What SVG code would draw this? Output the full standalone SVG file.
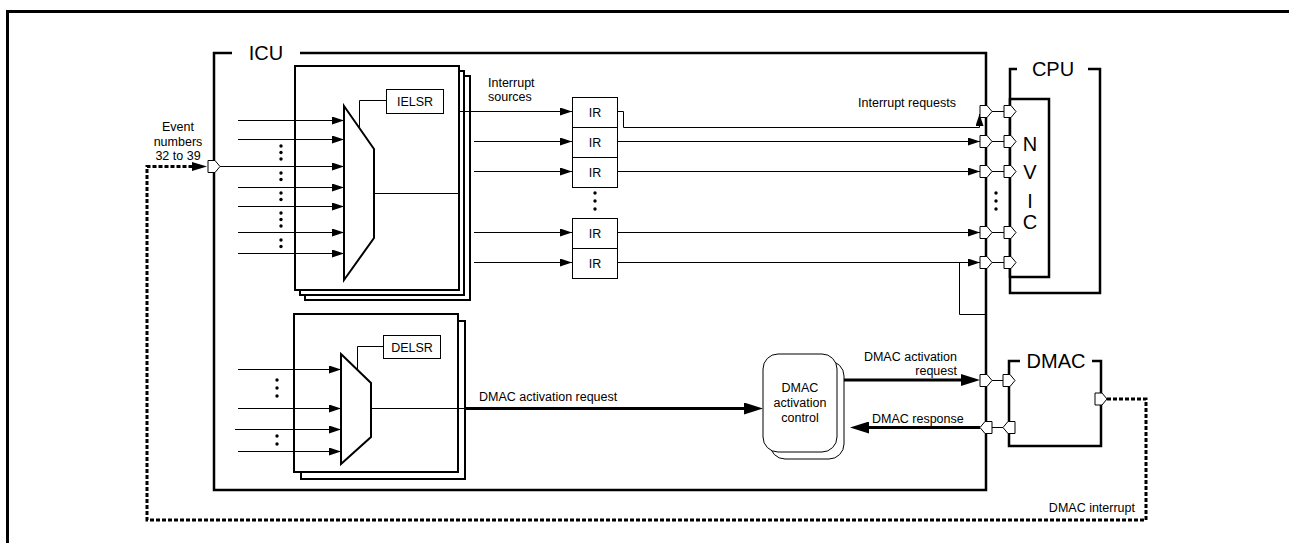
<svg xmlns="http://www.w3.org/2000/svg" xmlns:xlink="http://www.w3.org/1999/xlink" width="1289" height="543" viewBox="0 0 1289 543">
<style>
text{font-family:"Liberation Sans",Arial,sans-serif;fill:#000}
.s{font-size:12.5px}
.b{font-size:20px}
.m{text-anchor:middle}
.e{text-anchor:end}
.fr{fill:none;stroke:#000;stroke-width:2.5}
.bx{fill:#fff;stroke:#000;stroke-width:2}
.th{fill:#fff;stroke:#000;stroke-width:1}
.ln{fill:none;stroke:#000;stroke-width:1}
.tk{fill:none;stroke:#000;stroke-width:3}
.da{fill:none;stroke:#000;stroke-width:3;stroke-dasharray:4 2}
.dot{fill:#000}
</style>
<defs>
<marker id="a" markerUnits="userSpaceOnUse" markerWidth="13" markerHeight="9" refX="12" refY="4" orient="auto"><path d="M0,0 L12,4 L0,8 Z" fill="#000"/></marker>
<marker id="A" markerUnits="userSpaceOnUse" markerWidth="20" markerHeight="12" refX="0" refY="6" orient="auto"><path d="M0,0 L19,6 L0,12 Z" fill="#000"/></marker>
<marker id="E" markerUnits="userSpaceOnUse" markerWidth="16" markerHeight="10" refX="0" refY="4.5" orient="auto"><path d="M0,0 L15,4.5 L0,9 Z" fill="#000"/></marker>
<path id="pr" d="M-6,-6 H1 L6,0 L1,6 H-6 Z" fill="#fff" stroke="#000" stroke-width="1"/>
<path id="pl" d="M6,-6 H-1 L-6,0 L-1,6 H6 Z" fill="#fff" stroke="#000" stroke-width="1"/>
</defs>
<rect width="1289" height="543" fill="#fff"/>

<g id="outer-frame">
<path d="M7.5,543 V11.5 H1289" fill="none" stroke="#000" stroke-width="3"/>
</g>

<g id="icu">
<path class="fr" d="M232,53 H214 V490 H986 V53 H300"/>
<text class="b m" x="266" y="59.5">ICU</text>
</g>

<g id="ielsr-selector">
<rect class="bx" x="305" y="76" width="165" height="224"/>
<rect class="bx" x="300" y="71" width="164" height="224"/>
<rect class="bx" x="295" y="66" width="164" height="224"/>
<polygon points="344,106 374,149 374,238 344,280" fill="#fff" stroke="#000" stroke-width="2"/>
<rect class="th" x="386.5" y="89.5" width="57" height="24"/>
<text class="s m" x="415" y="106">IELSR</text>
</g>

<g id="delsr-selector">
<rect class="bx" x="301" y="321" width="164" height="158"/>
<rect class="bx" x="294" y="314" width="164" height="158"/>
<polygon points="341,354 371,383 371,437 341,464" fill="#fff" stroke="#000" stroke-width="2"/>
<rect class="th" x="383.5" y="335.5" width="57" height="23"/>
<text class="s m" x="412" y="352">DELSR</text>
</g>

<g id="ir-registers">
<rect class="th" x="572.5" y="97.5" width="45" height="30"/>
<rect class="th" x="572.5" y="127.5" width="45" height="30"/>
<rect class="th" x="572.5" y="157.5" width="45" height="30"/>
<rect class="th" x="572.5" y="218.5" width="45" height="30"/>
<rect class="th" x="572.5" y="248.5" width="45" height="30"/>
<text class="s m" x="595" y="117">IR</text>
<text class="s m" x="595" y="147">IR</text>
<text class="s m" x="595" y="177">IR</text>
<text class="s m" x="595" y="238">IR</text>
<text class="s m" x="595" y="268">IR</text>
<circle class="dot" cx="595" cy="193" r="1.7"/>
<circle class="dot" cx="595" cy="201" r="1.7"/>
<circle class="dot" cx="595" cy="209" r="1.7"/>
</g>

<g id="cpu">
<path class="fr" d="M1017,69 H1010 V293 H1100 V69 H1088"/>
<text class="b m" x="1053" y="75.5">CPU</text>
</g>

<g id="nvic">
<rect x="1010" y="99" width="39" height="178" fill="#fff" stroke="#000" stroke-width="2.5"/>
<text class="b m" x="1030" y="151">N</text>
<text class="b m" x="1030" y="179">V</text>
<text class="b m" x="1030" y="208">I</text>
<text class="b m" x="1030" y="229">C</text>
</g>

<g id="dmac">
<path class="fr" d="M1020,361 H1009 V446 H1101 V361 H1092"/>
<text class="b m" x="1056" y="367.5">DMAC</text>
</g>

<g id="dmac-activation-control">
<rect x="770" y="361" width="74" height="98" rx="15" fill="#fff" stroke="#000" stroke-width="1"/>
<rect x="763" y="354" width="74" height="98" rx="15" fill="#fff" stroke="#000" stroke-width="1"/>
<text class="s m" x="800" y="392">DMAC</text>
<text class="s m" x="800" y="407">activation</text>
<text class="s m" x="800" y="422">control</text>
</g>

<g id="connectors">
<path class="ln" d="M238,120.5 H344" marker-end="url(#a)"/>
<path class="ln" d="M238,139.5 H344" marker-end="url(#a)"/>
<path class="ln" d="M220,166.5 H344" marker-end="url(#a)"/>
<path class="ln" d="M238,187.5 H344" marker-end="url(#a)"/>
<path class="ln" d="M238,206.5 H344" marker-end="url(#a)"/>
<path class="ln" d="M238,232.5 H344" marker-end="url(#a)"/>
<path class="ln" d="M238,253.5 H344" marker-end="url(#a)"/>
<g class="dot">
<circle cx="281" cy="146" r="1.7"/><circle cx="281" cy="152.5" r="1.7"/><circle cx="281" cy="159" r="1.7"/>
<circle cx="281" cy="173" r="1.7"/><circle cx="281" cy="179.5" r="1.7"/>
<circle cx="281" cy="193" r="1.7"/><circle cx="281" cy="199.5" r="1.7"/>
<circle cx="281" cy="213" r="1.7"/><circle cx="281" cy="219.5" r="1.7"/><circle cx="281" cy="226" r="1.7"/>
<circle cx="281" cy="240" r="1.7"/><circle cx="281" cy="246.5" r="1.7"/>
</g>
<path class="ln" d="M359.5,127 V100.5 H386.5"/>
<path class="ln" d="M374,193.5 H459"/>
<path class="ln" d="M459,111.5 H572" marker-end="url(#a)"/>
<path class="ln" d="M474,141.5 H572" marker-end="url(#a)"/>
<path class="ln" d="M474,171.5 H572" marker-end="url(#a)"/>
<path class="ln" d="M474,232.5 H572" marker-end="url(#a)"/>
<path class="ln" d="M474,262.5 H572" marker-end="url(#a)"/>
<path class="ln" d="M617,111.5 H623.5 V127.5 H979.5 V114" marker-end="url(#a)"/>
<path class="ln" d="M617,141.5 H980" marker-end="url(#a)"/>
<path class="ln" d="M617,171.5 H980" marker-end="url(#a)"/>
<path class="ln" d="M617,232.5 H980" marker-end="url(#a)"/>
<path class="ln" d="M617,262.5 H980" marker-end="url(#a)"/>
<path class="ln" d="M959.5,262.5 V314.5 H986"/>
<path class="ln" d="M992,111.5 H1004 M992,141.5 H1004 M992,171.5 H1004 M992,232.5 H1004 M992,262.5 H1004"/>
<g class="dot">
<circle cx="996" cy="193" r="1.7"/><circle cx="996" cy="201" r="1.7"/><circle cx="996" cy="209" r="1.7"/>
</g>
<path class="ln" d="M238,369.5 H341" marker-end="url(#a)"/>
<path class="ln" d="M238,408.5 H341" marker-end="url(#a)"/>
<path class="ln" d="M235,429.5 H341" marker-end="url(#a)"/>
<path class="ln" d="M238,451.5 H341" marker-end="url(#a)"/>
<g class="dot">
<circle cx="277" cy="380" r="1.7"/><circle cx="277" cy="388" r="1.7"/><circle cx="277" cy="396" r="1.7"/>
<circle cx="277" cy="436" r="1.7"/><circle cx="277" cy="444" r="1.7"/>
</g>
<path class="ln" d="M357.5,369 V346.5 H383.5"/>
<path class="ln" d="M371,408.5 H466"/>
<path class="tk" d="M466,408.5 H744" marker-end="url(#A)"/>
<path class="tk" d="M844,380 H961" marker-end="url(#A)"/>
<path class="tk" d="M980,427.5 H869" marker-end="url(#A)"/>
<path class="ln" d="M992,380.5 H1003 M992,427.5 H1003"/>
<path class="da" d="M1107,399 H1146 V520 H147 V166.5 H192" marker-end="url(#E)"/>
</g>

<g id="ports">
<use href="#pr" xlink:href="#pr" x="214" y="166.5"/>
<use href="#pr" xlink:href="#pr" x="986" y="111.5"/>
<use href="#pr" xlink:href="#pr" x="986" y="141.5"/>
<use href="#pr" xlink:href="#pr" x="986" y="171.5"/>
<use href="#pr" xlink:href="#pr" x="986" y="232.5"/>
<use href="#pr" xlink:href="#pr" x="986" y="262.5"/>
<use href="#pr" xlink:href="#pr" x="1010" y="111.5"/>
<use href="#pr" xlink:href="#pr" x="1010" y="141.5"/>
<use href="#pr" xlink:href="#pr" x="1010" y="171.5"/>
<use href="#pr" xlink:href="#pr" x="1010" y="232.5"/>
<use href="#pr" xlink:href="#pr" x="1010" y="262.5"/>
<use href="#pr" xlink:href="#pr" x="986" y="380.5"/>
<use href="#pl" xlink:href="#pl" x="986" y="427.5"/>
<use href="#pr" xlink:href="#pr" x="1009" y="380.5"/>
<use href="#pl" xlink:href="#pl" x="1009" y="427.5"/>
<use href="#pr" xlink:href="#pr" x="1101" y="399"/>
</g>

<g id="labels">
<text class="s m" x="178" y="131">Event</text>
<text class="s m" x="178" y="145.5">numbers</text>
<text class="s m" x="178" y="160">32 to 39</text>
<text class="s" x="488" y="87">Interrupt</text>
<text class="s" x="488" y="101">sources</text>
<text class="s e" x="956" y="107">Interrupt requests</text>
<text class="s" x="479" y="401">DMAC activation request</text>
<text class="s e" x="957" y="361">DMAC activation</text>
<text class="s e" x="957" y="374.5">request</text>
<text class="s" x="872" y="422.5">DMAC response</text>
<text class="s e" x="1135" y="512">DMAC interrupt</text>
</g>
</svg>
